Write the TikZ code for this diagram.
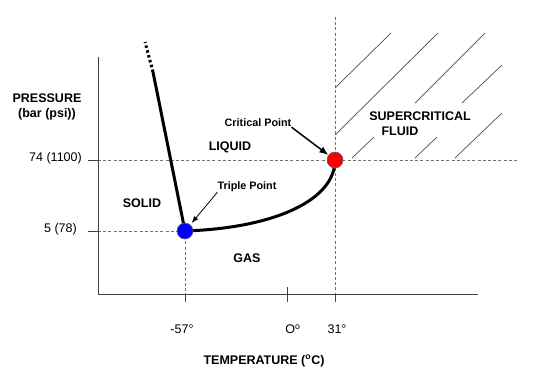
\documentclass[tikz,border=0pt]{standalone}
\usepackage{fontspec}
\setmainfont{Liberation Sans}
\usetikzlibrary{arrows.meta}

\begin{document}
\begin{tikzpicture}[x=1pt,y=-1pt,
        axis/.style={draw=black!75, line width=1pt},
        guide/.style={draw=black!55, line width=0.9pt, dash pattern=on 3pt off 2.2pt},
        phase/.style={line width=3pt, line cap=butt},
        hatch/.style={draw=black!70, line width=0.7pt},
        region/.style={inner sep=0pt, font=\fontsize{12.5}{15}\selectfont\bfseries},
        ticklbl/.style={inner sep=0pt, font=\fontsize{12.5}{15}\selectfont},
        pointlbl/.style={inner sep=0pt, font=\fontsize{10.8}{13}\selectfont\bfseries},
        dot/.style={circle, draw=black!60, line width=0.6pt, minimum size=16pt, inner sep=0pt}]
        \useasboundingbox (0,0) rectangle (540,375);
        \coordinate (tp) at (185,231);
        \coordinate (cp) at (335,160);
        \coordinate (melt) at (153,72);
        \coordinate (meltend) at (145,42);
        % dashed guides
        \draw[guide] (98,160) -- (517,160);
        \draw[guide] (98,231) -- (tp);
        \draw[guide] (tp) -- (185,294);
        \draw[guide] (335,17) -- (335,294);
        % hatching of the supercritical region
        \foreach \a/\b in {{(335,88)}/{(391,33)}, {(335,135)}/{(438,33)},
                {(415,103)}/{(485,33)}, {(462,103)}/{(502,65)},
                {(352,158)}/{(374,137)}, {(415,158)}/{(437,137)},
                {(455,158)}/{(502,113)}}
            \draw[hatch] \a -- \b;
        % axes and ticks
        \draw[axis] (98,57) -- (98,294) -- (478,294);
        \draw[axis] (88,160) -- (98,160);
        \draw[axis] (88,231) -- (98,231);
        \draw[axis] (185,294) -- (185,302);
        \draw[axis] (287,287) -- (287,302);
        \draw[axis] (335,294) -- (335,302);
        % phase boundaries
        \draw[phase] (tp) -- (melt);
        \draw[phase, dash pattern=on 2.5pt off 2.5pt] (melt) -- (meltend);
        \draw[phase] (tp) .. controls (275,228) and (335,200) .. (cp);
        \node[dot, fill=blue] (tpd) at (tp) {};
        \node[dot, fill=red] (cpd) at (cp) {};
        %
        \node[pointlbl] (crit) at (258,123) {Critical Point};
        \node[pointlbl] (trip) at (247,187) {Triple Point};
        \draw[-{Latex[length=9pt,width=7pt]}, line width=1.5pt] (crit.south east) -- (cpd);
        \draw[-{Latex[length=7pt,width=5pt]}, line width=0.8pt, shorten >=2pt] (trip.south west) -- (tpd);
        %
        \node[region, align=center] (pres) at (47,107) {PRESSURE\\(bar (psi))};
        \node[ticklbl, anchor=east] (p74) at (82,158) {74 (1100)};
        \node[ticklbl, anchor=east] (p5) at (77,229) {5 (78)};
        \node[region] (solid) at (142,203) {SOLID};
        \node[region] (liquid) at (230,147) {LIQUID};
        \node[region] (gas) at (247,258) {GAS};
        \node[region] (scf) at (420,116.5) {SUPERCRITICAL};
        \node[region] (fluid) at (400,131.5) {FLUID};
        \node[ticklbl] (t57) at (182,329) {-57°};
        \node[ticklbl] (t0) at (293,329) {O\textsuperscript{o}};
        \node[ticklbl] (t31) at (337,329) {31°};
        \node[region] (temp) at (264,361) {TEMPERATURE (\textsuperscript{o}C)};
    \end{tikzpicture}
\end{document}
